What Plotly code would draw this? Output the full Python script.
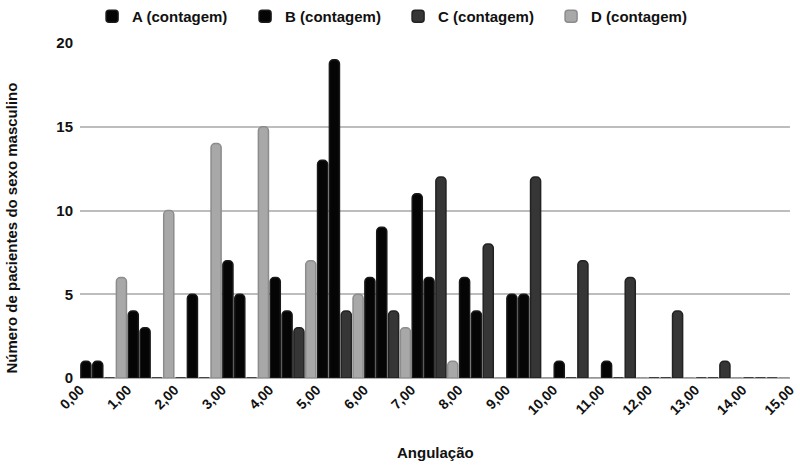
import plotly.graph_objects as go

tick_labels = ["0,00", "1,00", "2,00", "3,00", "4,00", "5,00", "6,00", "7,00",
               "8,00", "9,00", "10,00", "11,00", "12,00", "13,00", "14,00", "15,00"]
bin_centers = [i + 0.5 for i in range(15)]
series_names = ["A (contagem)", "B (contagem)", "C (contagem)", "D (contagem)"]
A = [1, 4, 0, 7, 6, 13, 6, 11, 6, 5, 1, 1, 0, 0, 0]
B = [1, 3, 5, 5, 4, 19, 9, 6, 4, 5, 0, 0, 0, 0, 0]
C = [0, 0, 0, 0, 3, 4, 4, 12, 8, 12, 7, 6, 4, 1, 0]
D = [6, 10, 14, 15, 7, 5, 3, 1, 0, 0, 0, 0, 0, 0, 0]
colors = ["#050505", "#050505", "#363636", "#a8a8a8"]
line_colors = ["#1a1a1a", "#1a1a1a", "#222222", "#8c8c8c"]

fig = go.Figure()
for name, vals, c, lc in zip(series_names, [A, B, C, D], colors, line_colors):
    fig.add_trace(go.Bar(
        x=bin_centers, y=vals, name=name,
        marker=dict(color=c, line=dict(color=lc, width=1.5)),
    ))

font_family = "Liberation Sans, Arial, sans-serif"
txt = "#111111"
fig.update_layout(
    width=800, height=468,
    margin=dict(l=80, r=10, t=43, b=90),
    paper_bgcolor="white", plot_bgcolor="white",
    barmode="group", bargap=0.0, bargroupgap=0.15,
    barcornerradius=4,
    font=dict(family=font_family, size=14, color=txt),
    showlegend=True,
    legend=dict(orientation="h", x=0.017, xanchor="left",
                y=1.0, yanchor="top", yref="container",
                font=dict(size=15, family=font_family, color=txt, weight="bold"),
                entrywidth=108, traceorder="normal"),
    xaxis=dict(range=[0, 15], tickmode="array", tickvals=list(range(16)),
               ticktext=tick_labels, tickangle=-45, showgrid=False, zeroline=False,
               showline=False, ticks="", automargin=False,
               tickfont=dict(size=14, family=font_family, color=txt, weight="bold"),
               title=dict(text="")),
    yaxis=dict(range=[0, 20], tickvals=[0, 5, 10, 15, 20], showgrid=True,
               gridcolor="#bdbdbd", gridwidth=1.5, zeroline=True, zerolinecolor="#b0b0b0",
               zerolinewidth=1.5, ticks="", showline=False, automargin=False,
               ticklabelstandoff=6,
               tickfont=dict(size=15, family=font_family, color=txt, weight="bold"),
               title=dict(text="")),
    annotations=[
        dict(text="Angulação", xref="paper", yref="paper", x=0.5, y=0,
             yshift=-74, xanchor="center", yanchor="middle", showarrow=False,
             font=dict(size=15, family=font_family, color=txt, weight="bold")),
        dict(text="Número de pacientes do sexo masculino", xref="paper", yref="paper",
             x=0, xshift=-69, y=0.5, yshift=-18, textangle=-90, xanchor="center",
             yanchor="middle", showarrow=False,
             font=dict(size=15, family=font_family, color=txt, weight="bold")),
    ],
)
fig.write_html("out.html")
